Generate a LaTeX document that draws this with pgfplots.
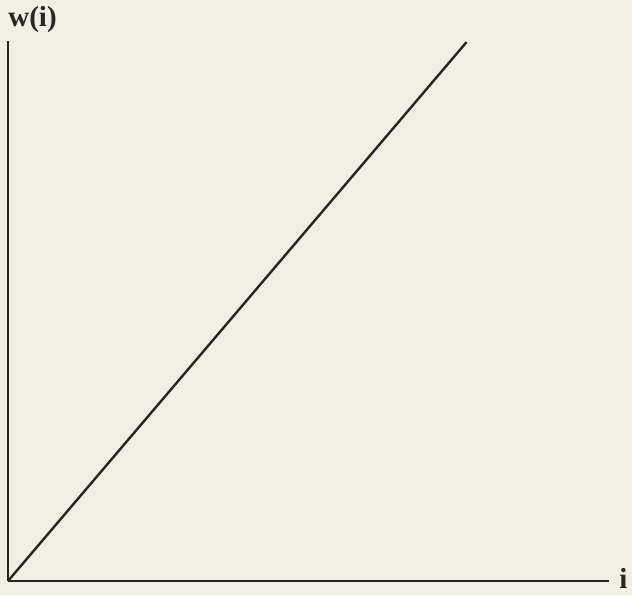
\documentclass[border=0pt]{standalone}
\usepackage{pgfplots}
\pgfplotsset{compat=1.18}
\usepackage{fontspec}
\setmainfont{Liberation Serif}
\definecolor{paper}{RGB}{240,239,226}
\definecolor{ink}{RGB}{38,38,36}
\begin{document}
\begin{tikzpicture}[x=1pt,y=1pt]
  % page background
  \fill[paper] (0,0) rectangle (632,595);
  \begin{axis}[
    at={(8pt,14pt)}, anchor=origin,
    scale only axis,
    width=601pt, height=540pt,
    xmin=0, xmax=100, ymin=0, ymax=100,
    axis x line=bottom, axis y line=left,
    axis line style={ink, line width=2.4pt, -},
    ticks=none,
    clip=false,
  ]
    \addplot[ink, line width=2.4pt] coordinates {(0,0) (76.3,99.8)};
  \end{axis}
  \node[ink, font=\fontsize{29}{32}\selectfont\bfseries] at (32.5,575.5) {w(i)};
  \node[ink, font=\fontsize{29}{32}\selectfont\bfseries] at (623.5,17) {i};
\end{tikzpicture}
\end{document}
